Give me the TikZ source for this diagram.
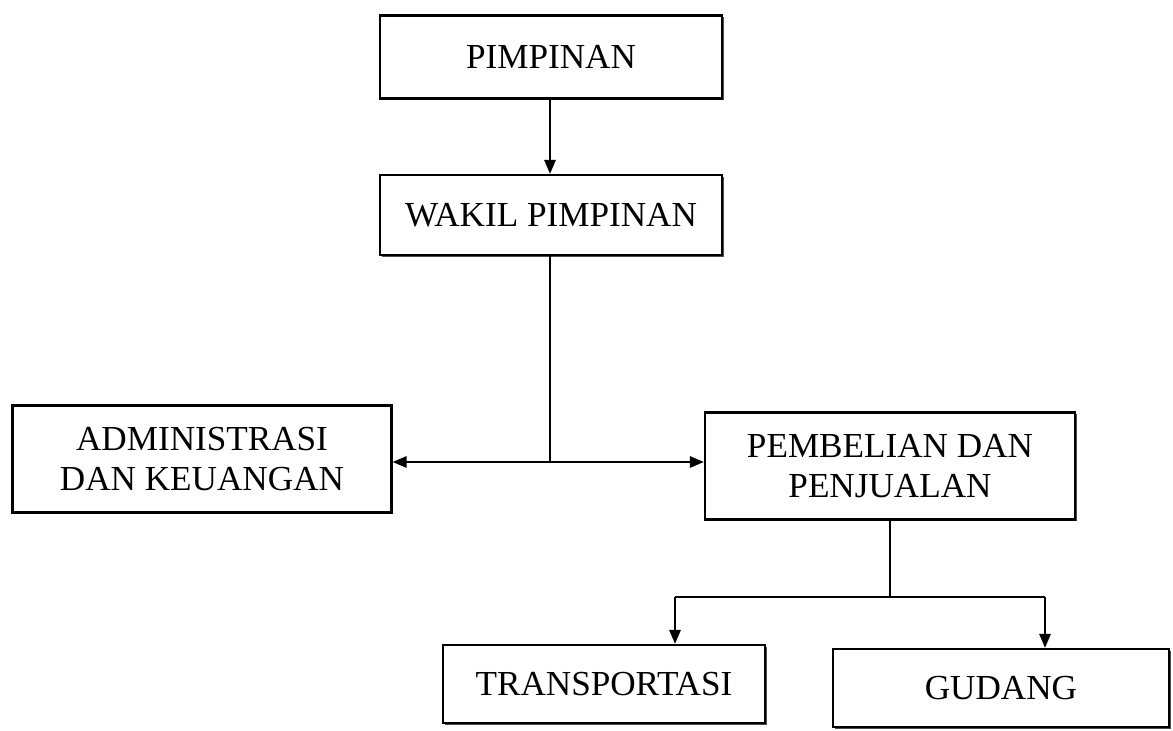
\documentclass[tikz,border=0pt]{standalone}
\usepackage{fontspec}
\setmainfont{Liberation Serif}
\usepackage{tikz}
\usetikzlibrary{arrows.meta, calc, shadows}

\begin{document}
\begin{tikzpicture}[>={Triangle[length=8pt, width=6.5pt]},
  unit/.style={draw=black, fill=white, line width=1.3pt, inner sep=2pt, align=center,
    font=\fontsize{20}{23}\selectfont,
    drop shadow={shadow xshift=1pt, shadow yshift=-1pt, fill=black!70, opacity=1}},
  link/.style={line width=1.1pt}]
\useasboundingbox (0,0) rectangle (23.46,14.6);
\node[unit, minimum width=6.84cm, minimum height=1.66cm] (pimpinan) at (11.02,13.46) {PIMPINAN};
\node[unit, minimum width=6.84cm, minimum height=1.60cm] (wakil) at (11.02,10.30) {WAKIL PIMPINAN};
\node[unit, minimum width=7.58cm, minimum height=2.14cm] (admin) at (4.04,5.42) {ADMINISTRASI\\DAN KEUANGAN};
\node[unit, minimum width=7.40cm, minimum height=2.14cm] (beli) at (17.80,5.28) {PEMBELIAN DAN\\PENJUALAN};
\node[unit, minimum width=6.44cm, minimum height=1.56cm] (transport) at (12.08,0.92) {TRANSPORTASI};
\node[unit, minimum width=6.72cm, minimum height=1.56cm] (gudang) at (20.02,0.84) {GUDANG};
% branch points
\coordinate (cabang1) at (11.00,5.36);
\coordinate (cabang2) at (17.80,2.66);
\coordinate (kiri2) at (13.50,2.66);
\coordinate (kanan2) at (20.90,2.66);
\draw[link,->] (pimpinan.south -| cabang1) -- (wakil.north -| cabang1);
\draw[link] (wakil.south -| cabang1) -- (cabang1);
\draw[link,->] (cabang1) -- (cabang1 -| admin.east);
\draw[link,->] (cabang1) -- (cabang1 -| beli.west);
\draw[link] (beli.south) -- (cabang2);
\draw[link] (kiri2) -- (kanan2);
\draw[link,->] (kiri2) -- (kiri2 |- transport.north);
\draw[link,->] (kanan2) -- (kanan2 |- gudang.north);
\end{tikzpicture}
\end{document}
